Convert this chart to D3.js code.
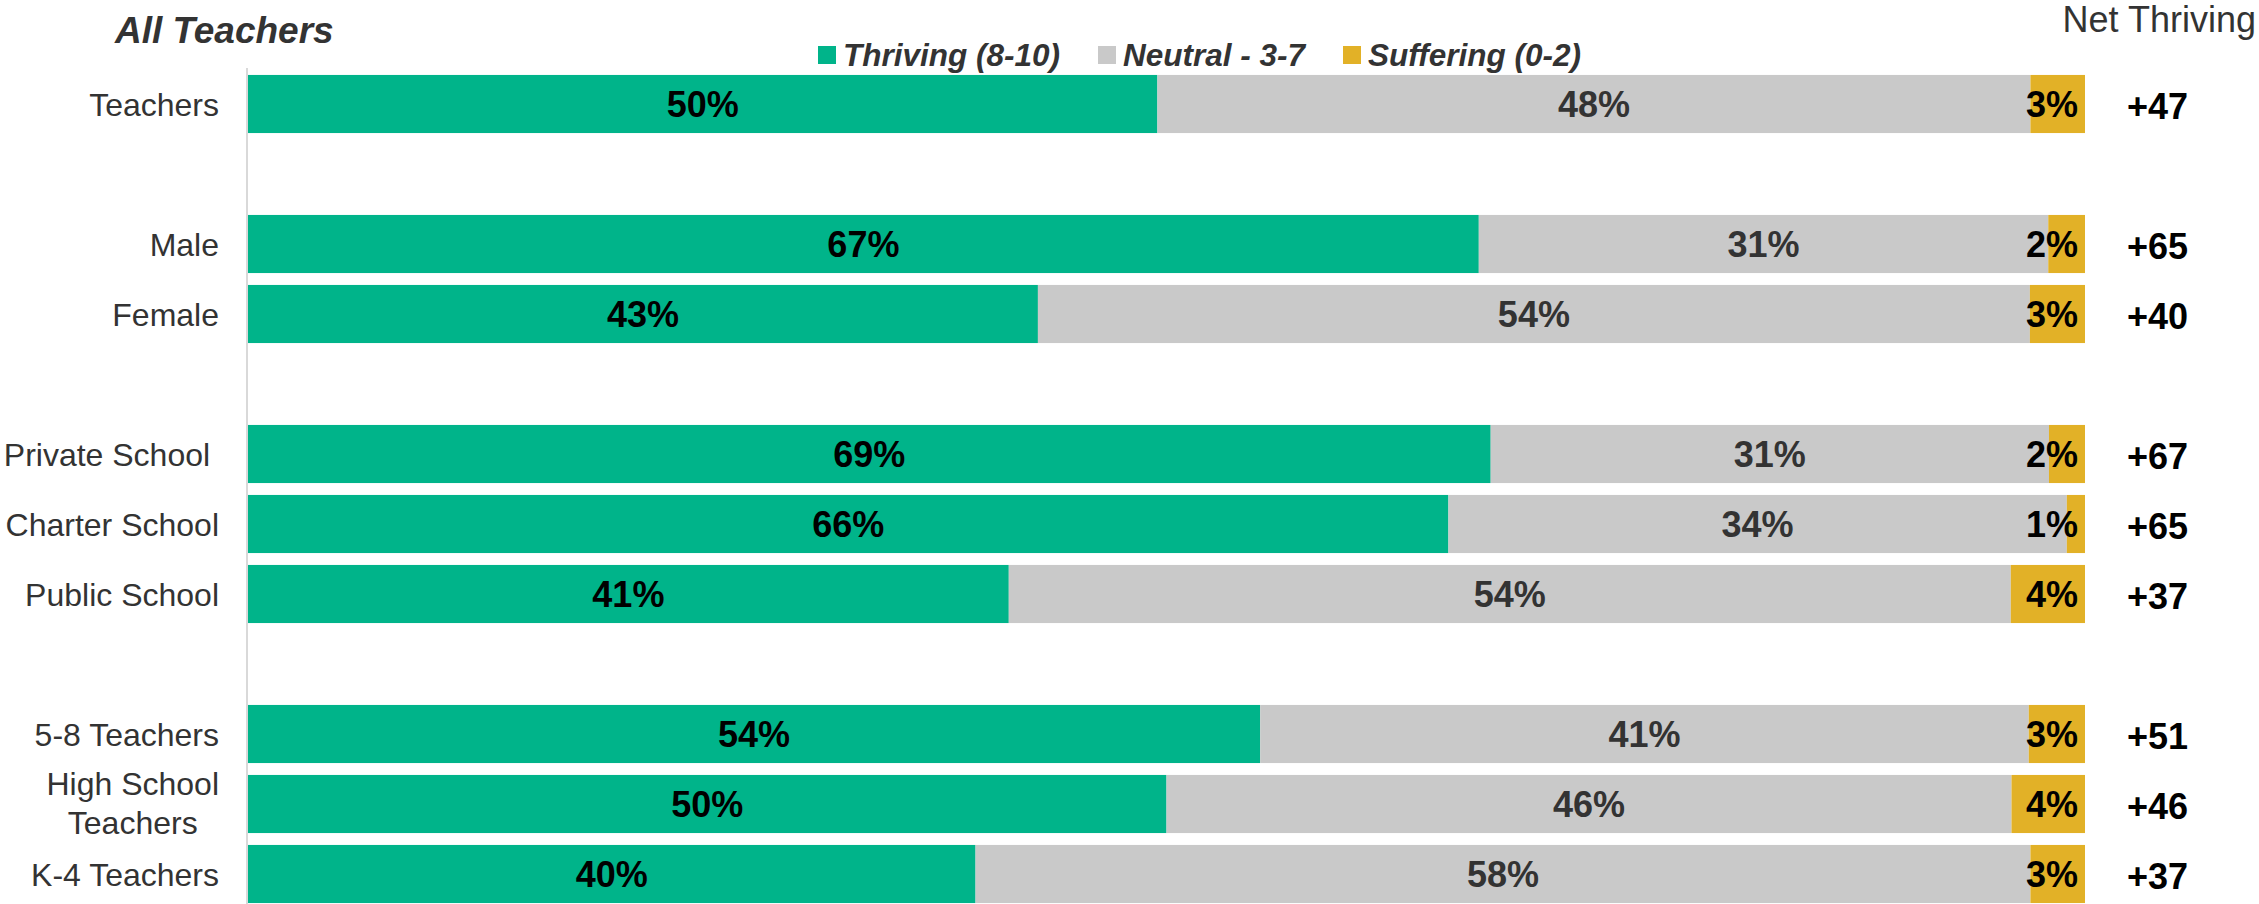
<!DOCTYPE html>
<html lang="en">

<head>
    <meta charset="UTF-8">
    <title>All Teachers - Thriving</title>
    <script src="https://cdn.jsdelivr.net/npm/d3@7"></script>
    <style>
        body {
            margin: 0;
            background: #fff;
        }

        svg {
            font-family: "Liberation Sans", Arial, sans-serif;
        }
    </style>
</head>

<body>
    <script>
        'use strict';
        // groups of categories, a blank row goes between groups
        var groups = [
            ['Teachers'],
            ['Male', 'Female'],
            ['Private School ', 'Charter School', 'Public School'],
            ['5-8 Teachers', 'High School Teachers', 'K-4 Teachers']
        ];
        var categories = ['Teachers', 'Male', 'Female', 'Private School ', 'Charter School', 'Public School',
            '5-8 Teachers', 'High School Teachers', 'K-4 Teachers'];
        var thriving = [50, 67, 43, 69, 66, 41, 54, 50, 40];
        var neutral = [48, 31, 54, 31, 34, 54, 41, 46, 58];
        var suffering = [3, 2, 3, 2, 1, 4, 3, 4, 3];
        var netThriving = [47, 65, 40, 67, 65, 37, 51, 46, 37];
        var seriesNames = ['Thriving (8-10)', 'Neutral - 3-7', 'Suffering (0-2)'];
        var seriesKeys = ['thriving', 'neutral', 'suffering'];

        var w = 2259,
            h = 904;
        var left = 248,
            right = 2085;

        var data = categories.map(function(c, i) {
            return {
                cat: c,
                thriving: thriving[i],
                neutral: neutral[i],
                suffering: suffering[i],
                net: netThriving[i]
            };
        });

        // band domain with spacer rows between groups
        var domain = [];
        groups.forEach(function(g, gi) {
            if (gi > 0) domain.push('gap' + gi);
            g.forEach(function(c) {
                domain.push(c);
            });
        });

        var y = d3.scaleBand()
            .domain(domain)
            .range([69, 909])
            .paddingInner(0.17)
            .paddingOuter(0.085);

        var x = d3.scaleLinear()
            .domain([0, 1])
            .range([left, right]);

        var color = d3.scaleOrdinal()
            .domain(seriesKeys)
            .range(['#00b48a', '#c9c9c9', '#e2b127']);

        var stack = d3.stack()
            .keys(seriesKeys)
            .offset(d3.stackOffsetExpand);
        var series = stack(data);

        var svg = d3.select('body')
            .append('svg')
            .attr('width', w)
            .attr('height', h);

        // category axis line
        svg.append('line')
            .attr('x1', left - 1)
            .attr('x2', left - 1)
            .attr('y1', 68)
            .attr('y2', h)
            .attr('stroke', '#d9d9d9')
            .attr('stroke-width', 2);

        var layer = svg.selectAll('g.layer')
            .data(series)
            .enter()
            .append('g')
            .attr('class', 'layer')
            .attr('fill', function(s) {
                return color(s.key);
            });

        layer.selectAll('rect')
            .data(function(s) {
                return s;
            })
            .enter()
            .append('rect')
            .attr('x', function(d) {
                return x(d[0]);
            })
            .attr('width', function(d) {
                return x(d[1]) - x(d[0]);
            })
            .attr('y', function(d) {
                return y(d.data.cat);
            })
            .attr('height', y.bandwidth());

        // value labels
        layer.selectAll('text')
            .data(function(s) {
                return s.map(function(d) {
                    d.key = s.key;
                    return d;
                });
            })
            .enter()
            .append('text')
            .text(function(d) {
                return d.data[d.key] + '%';
            })
            .attr('x', function(d) {
                if (d.key === 'suffering') return x(1) - 7;
                return (x(d[0]) + x(d[1])) / 2;
            })
            .attr('y', function(d) {
                return y(d.data.cat) + y.bandwidth() / 2;
            })
            .attr('dy', '0.36em')
            .attr('text-anchor', function(d) {
                return d.key === 'suffering' ? 'end' : 'middle';
            })
            .attr('font-size', '36px')
            .attr('font-weight', 'bold')
            .attr('fill', function(d) {
                return d.key === 'neutral' ? '#333' : '#000';
            });

        // category labels
        var labels = svg.selectAll('text.cat')
            .data(data)
            .enter()
            .append('text')
            .attr('class', 'cat')
            .attr('font-size', '32px')
            .attr('fill', '#333')
            .attr('text-anchor', 'end')
            .style('white-space', 'pre')
            .attr('y', function(d) {
                return y(d.cat) + y.bandwidth() / 2;
            });

        labels.each(function(d) {
            var t = d3.select(this);
            if (d.cat === 'High School Teachers') {
                var lines = ['High School', 'Teachers'];
                var tmp = t.append('tspan').text(lines[0]);
                var bw = tmp.node().getComputedTextLength();
                tmp.remove();
                t.attr('text-anchor', 'middle');
                lines.forEach(function(l, i) {
                    t.append('tspan')
                        .attr('x', 219 - bw / 2)
                        .attr('dy', i === 0 ? '-0.27em' : '1.2em')
                        .text(l);
                });
            } else {
                t.attr('x', 219)
                    .attr('dy', '0.36em')
                    .text(d.cat);
            }
        });

        // net thriving
        svg.selectAll('text.net')
            .data(data)
            .enter()
            .append('text')
            .attr('class', 'net')
            .text(function(d) {
                return (d.net > 0 ? '+' : '') + d.net;
            })
            .attr('x', 2127)
            .attr('y', function(d) {
                return y(d.cat) + y.bandwidth() / 2;
            })
            .attr('dy', '0.42em')
            .attr('font-size', '36px')
            .attr('font-weight', 'bold')
            .attr('fill', '#000');

        svg.append('text')
            .text('Net Thriving')
            .attr('x', 2256)
            .attr('y', 32)
            .attr('text-anchor', 'end')
            .attr('font-size', '36px')
            .attr('fill', '#333');

        svg.append('text')
            .text('All Teachers')
            .attr('x', 115)
            .attr('y', 43)
            .attr('font-size', '37px')
            .attr('font-weight', 'bold')
            .attr('font-style', 'italic')
            .attr('fill', '#333');

        // legend
        var legendX = [818, 1098, 1343];
        var legend = svg.selectAll('g.legend')
            .data(seriesKeys)
            .enter()
            .append('g')
            .attr('class', 'legend')
            .attr('transform', function(k, i) {
                return 'translate(' + legendX[i] + ',55)';
            });
        legend.append('rect')
            .attr('x', 0)
            .attr('y', -9)
            .attr('width', 18)
            .attr('height', 18)
            .attr('fill', function(k) {
                return color(k);
            });
        legend.append('text')
            .text(function(k, i) {
                return seriesNames[i];
            })
            .attr('x', 25)
            .attr('dy', '0.36em')
            .attr('font-size', '31.5px')
            .attr('font-weight', 'bold')
            .attr('font-style', 'italic')
            .attr('fill', '#333');
    </script>
</body>

</html>
